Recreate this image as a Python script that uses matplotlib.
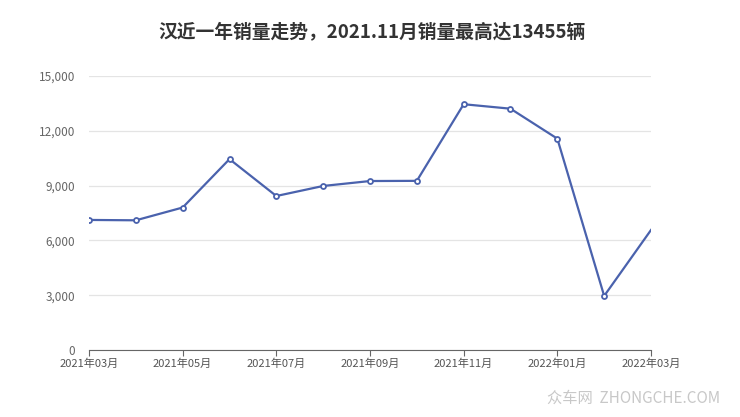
import matplotlib
matplotlib.use("Agg")
import matplotlib.pyplot as plt
import numpy as np

plt.rcParams['font.family'] = ['Noto Sans CJK SC', 'DejaVu Sans']

#------------------DATA------------------#
months = ["2021年03月", "2021年04月", "2021年05月", "2021年06月", "2021年07月",
          "2021年08月", "2021年09月", "2021年10月", "2021年11月", "2021年12月",
          "2022年01月", "2022年02月", "2022年03月"]
sales = [7120, 7100, 7800, 10450, 8430, 8980, 9250, 9260, 13455, 13210, 11570, 2960, 6570]
yticks = [0, 3000, 6000, 9000, 12000, 15000]
title = "汉近一年销量走势，2021.11月销量最高达13455辆"

#--------------------------------------------#
fig = plt.figure(figsize=(7.4, 4.17), dpi=100)
ax = fig.add_axes([89/740, 67/417, 562/740, 274/417])

x = np.arange(len(months))
line_c = "#4a62ad"
ax.plot(x, sales, color=line_c, linewidth=1.6, zorder=3)
ax.plot(x[:-1], sales[:-1], "o", markersize=3.6, markerfacecolor="white",
        markeredgecolor=line_c, markeredgewidth=1.3, zorder=4)

ax.set_xlim(0, len(months) - 1)
ax.set_ylim(0, 15000)
ax.set_yticks(yticks)
ax.set_yticklabels(["{:,}".format(v) for v in yticks])
ax.set_xticks(x[::2])
ax.set_xticklabels(months[::2])

ax.grid(axis="y", color="#e4e4e4", linewidth=0.9)
ax.set_axisbelow(True)
for s in ["top", "right", "left"]:
    ax.spines[s].set_visible(False)
ax.spines["bottom"].set_color("#666666")
ax.tick_params(axis="y", length=0, labelsize=8.5, labelcolor="#666666", pad=10)
ax.tick_params(axis="x", length=4, color="#666666", labelsize=8, labelcolor="#555555", pad=2)

fig.text(372/740, 1 - 32/417, title, ha="center", va="center", fontsize=13.5,
         fontweight="bold", color="#333333")
fig.text(720/740, 1 - 398/417, "众车网  ZHONGCHE.COM", ha="right", va="center",
         fontsize=11, color="#c8c8c8")

fig.savefig("out.png", dpi=100)
